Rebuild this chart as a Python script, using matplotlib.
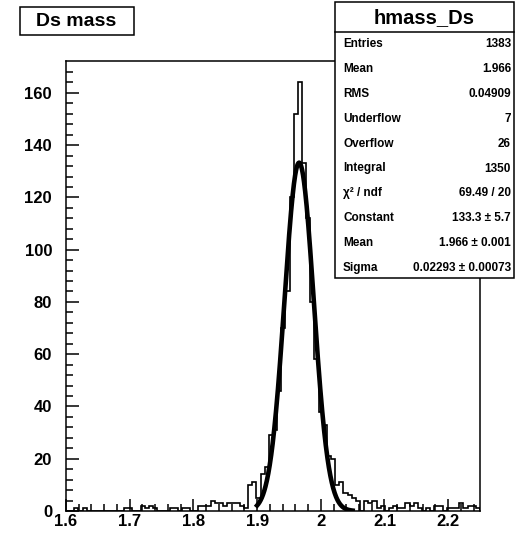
import numpy as np
import matplotlib.pyplot as plt
from matplotlib.patches import Rectangle
from matplotlib.lines import Line2D

plt.rcParams['font.family'] = ['Liberation Sans', 'DejaVu Sans']
plt.rcParams['font.weight'] = 'bold'

# histogram hmass_Ds : 100 bins from 1.6 to 2.25
x_min, x_max, n_bins = 1.6, 2.25, 100
counts = [0, 0, 1, 0, 1, 0, 0, 0, 0, 0,
          0, 0, 0, 0, 1, 1, 0, 0, 2, 1,
          2, 1, 0, 0, 0, 1, 1, 0, 1, 1,
          0, 0, 2, 2, 2, 4, 3, 3, 2, 3,
          3, 3, 2, 1, 10, 11, 5, 14, 17, 29,
          31, 46, 70, 84, 120, 152, 164, 133, 112, 80,
          58, 38, 33, 21, 20, 10, 11, 7, 6, 5,
          4, 0, 4, 3, 4, 1, 2, 0, 1, 2,
          1, 1, 3, 2, 3, 1, 0, 1, 0, 2,
          2, 0, 1, 1, 1, 3, 1, 2, 2, 1]

# gaussian fit
fit_const, fit_mean, fit_sigma = 133.3, 1.966, 0.02293
fit_lo, fit_hi = 1.9, 2.05

# stats box
stat_title = 'hmass_Ds'
stat_labels = ['Entries', 'Mean', 'RMS', 'Underflow', 'Overflow', 'Integral',
               '\u03c7\u00b2 / ndf', 'Constant', 'Mean', 'Sigma']
stat_values = ['1383', '1.966', '0.04909', '7', '26', '1350',
               '69.49 / 20', '133.3 \u00b1 5.7', '1.966 \u00b1 0.001',
               '0.02293 \u00b1 0.00073']

W, H = 516, 536
fig = plt.figure(figsize=(W / 100, H / 100), dpi=100)
ax = fig.add_axes([66 / W, 1 - 511 / H, (480 - 66) / W, (511 - 61) / H])

edges = np.linspace(x_min, x_max, n_bins + 1)
ax.stairs(counts, edges, color='black', lw=1.2)

xf = np.linspace(fit_lo, fit_hi, 400)
yf = fit_const * np.exp(-0.5 * ((xf - fit_mean) / fit_sigma) ** 2)
ax.plot(xf, yf, color='black', lw=3.3)

ax.set_xlim(x_min, x_max)
ax.set_ylim(0, max(counts) * 1.05)
ax.set_xticks(np.arange(1.6, 2.21, 0.1))
ax.set_xticklabels(['1.6', '1.7', '1.8', '1.9', '2', '2.1', '2.2'])
ax.set_xticks(np.arange(1.6, 2.25, 0.02), minor=True)
ax.set_yticks(np.arange(0, 161, 20))
ax.set_yticks(np.arange(0, 172, 4), minor=True)
ax.tick_params(which='both', direction='in', top=False, right=False, width=1.1)
ax.tick_params(which='major', length=9, labelsize=12)
ax.tick_params(axis='x', pad=2)
ax.tick_params(axis='y', pad=10)
ax.tick_params(which='minor', length=5)
for s in ax.spines.values():
    s.set_linewidth(1.1)

# title box
fig.add_artist(Rectangle((20 / W, 1 - 35 / H), 114 / W, 28 / H, transform=fig.transFigure,
                         facecolor='white', edgecolor='black', lw=1.1))
fig.text(76 / W, 1 - 22 / H, 'Ds mass', ha='center', va='center', fontsize=14)

# stats box
bx0, bx1, by0, by1 = 335, 514, 2, 278
fig.add_artist(Rectangle((bx0 / W, 1 - by1 / H), (bx1 - bx0) / W, (by1 - by0) / H,
                         transform=fig.transFigure, facecolor='white', edgecolor='black', lw=1.1))
fig.add_artist(Line2D([bx0 / W, bx1 / W], [1 - 32 / H, 1 - 32 / H],
                      transform=fig.transFigure, color='black', lw=1.1))
fig.text((bx0 + bx1) / 2 / W, 1 - 18 / H, stat_title, ha='center', va='center', fontsize=14.5)
for i, (lab, val) in enumerate(zip(stat_labels, stat_values)):
    y = 1 - (44 + i * 24.9) / H
    fig.text(343 / W, y, lab, ha='left', va='center', fontsize=8.5)
    fig.text(511 / W, y, val, ha='right', va='center', fontsize=8.5)

fig.savefig('out.png', dpi=100)
